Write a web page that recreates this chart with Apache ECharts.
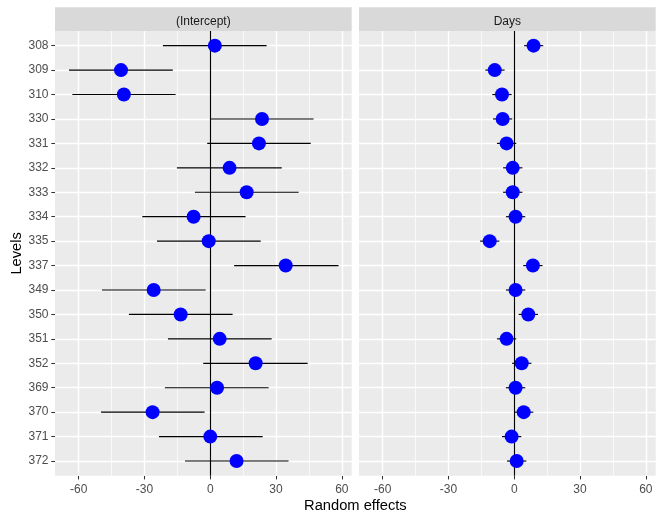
<!DOCTYPE html>
<html>
<head>
<meta charset="utf-8">
<script src="https://cdn.jsdelivr.net/npm/echarts@6/dist/echarts.min.js"></script>
<style>html,body{margin:0;padding:0;background:#fff;}#c{width:664px;height:521px;}</style>
</head>
<body>
<div id="c"></div>
<script>
const categories = ['308','309','310','330','331','332','333','334','335','337','349','350','351','352','369','370','371','372'];
const panelTitles = ['(Intercept)', 'Days'];
const interceptEst = [2.1, -40.7, -39.4, 23.6, 22.2, 8.8, 16.6, -7.6, -0.7, 34.4, -25.8, -13.5, 4.3, 20.7, 3.1, -26.3, 0.0, 12.0];
const interceptLo = [-21.6, -64.4, -62.9, 0.2, -1.4, -15.2, -7.0, -31.0, -24.3, 10.9, -49.4, -37.1, -19.3, -3.2, -20.7, -49.8, -23.4, -11.5];
const interceptHi = [25.7, -17.1, -15.8, 47.1, 45.8, 32.6, 40.3, 16.1, 23.0, 58.5, -2.1, 10.2, 28.0, 44.4, 26.6, -2.6, 23.9, 35.7];
const daysEst = [8.8, -8.9, -5.6, -5.3, -3.5, -0.7, -0.7, 0.6, -11.2, 8.5, 0.6, 6.4, -3.5, 3.4, 0.6, 4.3, -1.2, 1.1];
const daysLo = [4.5, -13.2, -10.0, -9.7, -7.9, -5.1, -5.1, -3.8, -15.6, 4.1, -3.8, 2.0, -7.9, -1.0, -3.8, -0.1, -5.6, -3.3];
const daysHi = [13.2, -4.4, -1.2, -0.9, 0.9, 3.7, 3.7, 5.0, -6.8, 12.9, 5.0, 10.8, 0.9, 7.8, 5.0, 8.7, 3.2, 5.5];
const xTicks = [-60, -30, 0, 30, 60];
const xMinorTicks = [-45, -15, 15, 45];
const xTitle = 'Random effects';
const yTitle = 'Levels';

const FONT = 'Liberation Sans, Arial, sans-serif';
const XMIN = -70.8, XMAX = 64.5;
const YMIN = -0.6, YMAX = categories.length - 1 + 0.6;
const idx = categories.map((c, i) => i);

const panels = [
  {left: 55, width: 296.7, est: interceptEst, lo: interceptLo, hi: interceptHi},
  {left: 359, width: 296.7, est: daysEst, lo: daysLo, hi: daysHi}
];
const TOP = 31, HEIGHT = 444.7;

const grid = [], xAxis = [], yAxis = [], series = [], graphic = [];
panels.forEach((p, k) => {
  grid.push({left: p.left, width: p.width, top: TOP, height: HEIGHT, show: true,
    backgroundColor: '#EBEBEB', borderWidth: 0, containLabel: false});
  xAxis.push({type: 'value', gridIndex: k, min: XMIN, max: XMAX, position: 'bottom',
    axisLine: {show: false, onZero: false},
    axisTick: {show: true, length: 3.7, customValues: xTicks, lineStyle: {color: '#333333', width: 1.07}},
    axisLabel: {customValues: xTicks, color: '#4D4D4D', fontFamily: FONT, fontSize: 12, margin: 8},
    splitLine: {show: false}
  });
  yAxis.push({type: 'value', gridIndex: k, min: YMIN, max: YMAX, inverse: true, position: 'left',
    axisLine: {show: false, onZero: false},
    axisTick: {show: k === 0, length: 3.7, customValues: idx, lineStyle: {color: '#333333', width: 1.07}},
    axisLabel: {show: k === 0, customValues: idx, formatter: v => categories[Math.round(v)],
      color: '#4D4D4D', fontFamily: FONT, fontSize: 12, margin: 6.5},
    splitLine: {show: false}
  });
});

panels.forEach((p, k) => {
  // panel grid lines (white), drawn beneath marks
  const gridLines = []
    .concat(xMinorTicks.map(v => ({xAxis: v, lineStyle: {color: '#FFFFFF', width: 0.7, type: 'solid'}})))
    .concat(xTicks.map(v => ({xAxis: v, lineStyle: {color: '#FFFFFF', width: 1.4, type: 'solid'}})))
    .concat(idx.map(v => ({yAxis: v, lineStyle: {color: '#FFFFFF', width: 1.4, type: 'solid'}})));
  series.push({
    type: 'scatter', xAxisIndex: k, yAxisIndex: k, z: 1, silent: true,
    symbolSize: 0, itemStyle: {opacity: 0},
    data: idx.map(i => [p.est[i], i]),
    markLine: {z: 1, silent: true, symbol: 'none', label: {show: false}, animation: false, data: gridLines}
  });
  series.push({
    type: 'custom', xAxisIndex: k, yAxisIndex: k, z: 2,
    data: idx.map(i => [p.lo[i], p.hi[i], i]),
    encode: {x: [0, 1], y: 2},
    renderItem: function (params, api) {
      const a = api.coord([api.value(0), api.value(2)]);
      const b = api.coord([api.value(1), api.value(2)]);
      return {type: 'line', shape: {x1: a[0], y1: a[1], x2: b[0], y2: b[1]},
        style: {stroke: '#000000', lineWidth: 1.15}};
    },
    markLine: {z: 2, silent: true, symbol: 'none', label: {show: false}, animation: false,
      lineStyle: {color: '#000000', type: 'solid', width: 1.15},
      data: [{xAxis: 0}]}
  });
  series.push({
    type: 'scatter', xAxisIndex: k, yAxisIndex: k, z: 3,
    symbol: 'circle', symbolSize: 14,
    itemStyle: {color: '#0000FF', opacity: 1},
    data: idx.map(i => [p.est[i], i])
  });
  graphic.push({type: 'rect', shape: {x: p.left, y: 7.3, width: p.width, height: TOP - 7.3},
    style: {fill: '#D9D9D9'}, silent: true});
  graphic.push({type: 'text', x: p.left + p.width / 2, y: 21.8,
    style: {text: panelTitles[k], align: 'center', verticalAlign: 'middle',
      fill: '#1A1A1A', font: '12px ' + FONT}, silent: true});
});
graphic.push({type: 'text', x: (55 + 655.7) / 2, y: 506,
  style: {text: xTitle, align: 'center', verticalAlign: 'middle', fill: '#000000', font: '14.7px ' + FONT}});
graphic.push({type: 'text', x: 16.5, y: TOP + HEIGHT / 2, rotation: Math.PI / 2,
  style: {text: yTitle, align: 'center', verticalAlign: 'middle', fill: '#000000', font: '14.7px ' + FONT}});

const chart = echarts.init(document.getElementById('c'), null, {renderer: 'canvas'});
chart.setOption({animation: false, backgroundColor: '#FFFFFF', grid, xAxis, yAxis, series, graphic});
</script>
</body>
</html>
